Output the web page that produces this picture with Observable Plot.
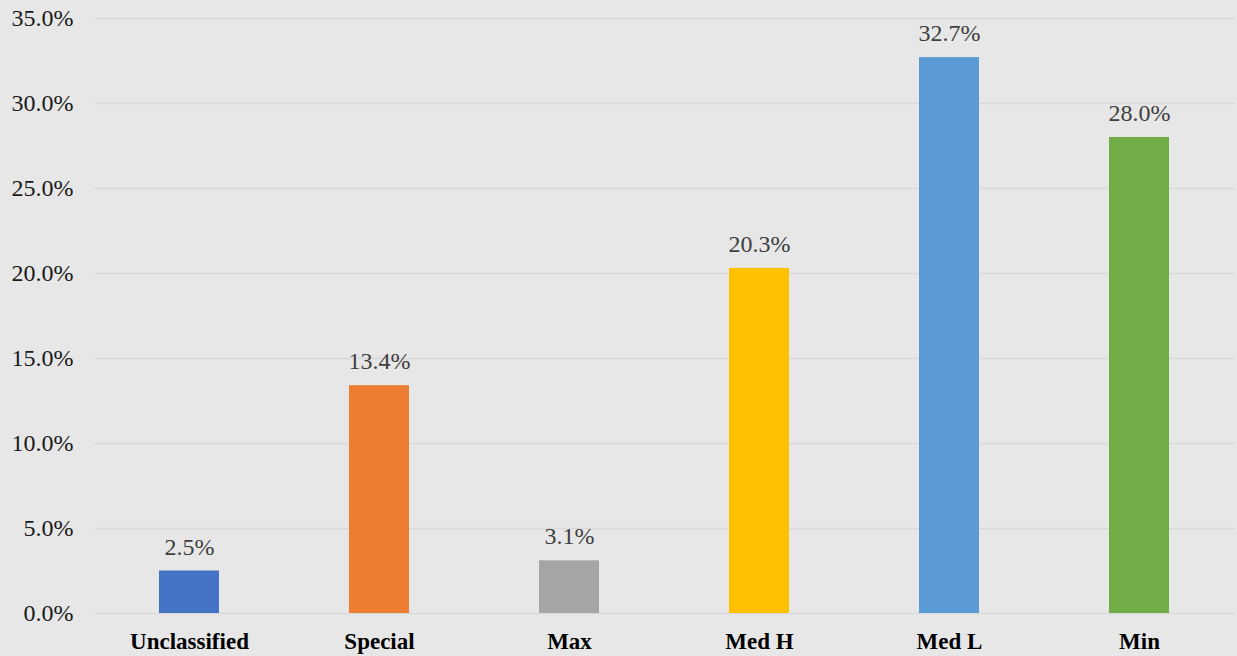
<!DOCTYPE html>
<html>
<head>
<meta charset="utf-8">
<script src="https://cdn.jsdelivr.net/npm/d3@7"></script>
<script src="https://cdn.jsdelivr.net/npm/@observablehq/plot@0.6"></script>
<style>
  html, body { margin: 0; padding: 0; background: #e7e7e7; }
  #chart svg { display: block; }
</style>
</head>
<body>
<div id="chart"></div>
<script>
const categories = ["Unclassified", "Special", "Max", "Med H", "Med L", "Min"];
const values = [2.5, 13.4, 3.1, 20.3, 32.7, 28.0];
const colors = ["#4472c4", "#ed7d31", "#a5a5a5", "#ffc000", "#5b9bd5", "#70ad47"];
const yTicks = [0, 5, 10, 15, 20, 25, 30, 35];

const data = categories.map((c, i) => ({category: c, value: values[i]}));

const chart = Plot.plot({
  width: 1237,
  height: 656,
  marginLeft: 94,
  marginRight: 3,
  marginTop: 18,
  marginBottom: 43,
  style: {background: "#e7e7e7", fontFamily: "'Liberation Serif', 'Times New Roman', serif"},
  x: {domain: categories, paddingInner: 0.684, paddingOuter: 0.342, label: null},
  y: {domain: [0, 35], label: null},
  color: {domain: categories, range: colors},
  marks: [
    Plot.ruleY(yTicks, {stroke: "#d9d9d9", strokeWidth: 1.5}),
    Plot.barY(data, {x: "category", y: "value", fill: "category"}),
    Plot.text(data, {x: "category", y: "value", text: d => d.value.toFixed(1) + "%", dy: -24, fill: "#404040", fontSize: 24}),
    Plot.axisY({ticks: yTicks, tickSize: 0, tickPadding: 21, tickFormat: d => d.toFixed(1) + "%", fontSize: 24, fill: "#1a1a1a", label: null}),
    Plot.axisX({tickSize: 0, tickPadding: 19, fontSize: 23, fontWeight: "bold", fill: "#000", label: null})
  ]
});
document.getElementById("chart").appendChild(chart);
</script>
</body>
</html>
